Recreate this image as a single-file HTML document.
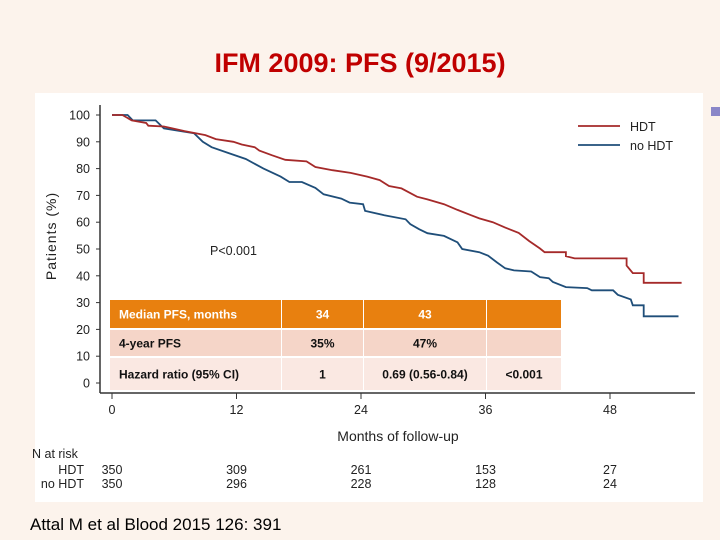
<!DOCTYPE html>
<html><head><meta charset="utf-8"><style>
body{margin:0;width:720px;height:540px;background:#fcf3ec;font-family:"Liberation Sans",sans-serif;overflow:hidden;position:relative}
</style></head><body>
<div style="position:absolute;left:0;top:48px;width:720px;text-align:center;color:#c00000;font-size:27px;font-weight:bold;">IFM 2009: PFS (9/2015)</div>
<div style="position:absolute;left:711px;top:107px;width:9px;height:9px;background:#8a86c8"></div>
<svg width="720" height="540" style="position:absolute;left:0;top:0" xmlns="http://www.w3.org/2000/svg">
<rect x="35" y="93" width="668" height="409" fill="#fff"/>
<g id="plot"></g>
</svg>
<div style="position:absolute;left:30px;top:515px;font-size:17px;color:#000">Attal M et al Blood 2015 126: 391</div>
<script>
const xTicks=[0,12,24,36,48];
const yTicks=[0,10,20,30,40,50,60,70,80,90,100];
const hdtMonths=[0,1,1.9,3.3,3.5,5,7,9,10,11.7,12.5,13.75,14.2,15.4,16.7,18.75,19.6,21.25,23,24.6,25.8,26.7,27.9,29.4,30.4,32,33.3,34.6,35.4,36.7,37.9,39.2,40.2,41.25,41.7,43.75,43.75,44.6,49.6,49.6,50.2,51.25,51.25,54.9];
const hdtValues=[100,100,98,97,96,95.7,94,92.5,91,90,89,88,86.7,85,83.3,82.7,80.6,79.4,78.4,77,75.7,73.5,72.6,69.5,68.5,66.7,64.6,62.6,61.4,60,58,56,53,50.2,48.8,48.8,47.3,46.5,46.5,43.8,41,41,37.4,37.4];
const noHdtMonths=[0,1.5,2,4.2,5,7.9,8.75,9.6,11.25,12.9,14.6,16.25,17.1,18.3,19.6,20.4,22.1,22.9,24.2,24.4,26.25,28.3,28.75,29.6,30.4,32,33.3,33.75,35.4,36.25,37.1,37.9,38.75,40.4,41.25,42.1,42.5,43.75,45.8,46.25,48.3,48.75,50,50.2,51.25,51.25,54.6];
const noHdtValues=[100,100,98,98,95,93.2,90,88,85.8,83.6,80,77,75,75,72.8,70.4,68.8,67.3,66.7,64.2,62.6,61.1,59.3,57.4,55.9,54.9,52.5,50,48.8,47.5,45,42.8,42,41.6,39.5,39.1,37.7,35.8,35.4,34.6,34.6,32.9,31.2,29,29,24.9,24.9];
const riskHdt=[350,309,261,153,27];
const riskNoHdt=[350,296,228,128,24];
const xs=m=>112+m*(610-112)/48;
const ys=v=>383-v*(383-115)/100;
const NS="http://www.w3.org/2000/svg";
const g=document.getElementById('plot');
function el(t,a,txt){const e=document.createElementNS(NS,t);for(const k in a)e.setAttribute(k,a[k]);if(txt!==undefined)e.textContent=txt;g.appendChild(e);return e;}
let e;
e=el('line',{x1:100,y1:105,x2:100,y2:393,stroke:'#333','stroke-width':1.5});


e=el('line',{x1:100,y1:393,x2:695,y2:393,stroke:'#333','stroke-width':1.5});


yTicks.forEach(v=>{
 e=el('line',{x1:96,y1:ys(v),x2:100,y2:ys(v),stroke:'#333'});
 
 
 e=el('text',{x:90,y:ys(v)+4.5,'text-anchor':'end','font-size':12.5,fill:'#222'},v);
 
 
});
xTicks.forEach((m,i)=>{
 e=el('line',{x1:xs(m),y1:393,x2:xs(m),y2:399,stroke:'#333'});
 
 
 e=el('text',{x:xs(m),y:414,'text-anchor':'middle','font-size':12.5,fill:'#222'},m);
 
 
 e=el('text',{x:xs(m),y:474,'text-anchor':'middle','font-size':12.5,fill:'#222'},riskHdt[i]);
 
 
 e=el('text',{x:xs(m),y:488,'text-anchor':'middle','font-size':12.5,fill:'#222'},riskNoHdt[i]);
 
 
});
function pts(ms,vs){return ms.map((m,i)=>xs(m).toFixed(1)+','+ys(vs[i]).toFixed(1)).join(' ');}
e=el('polyline',{points:pts(noHdtMonths,noHdtValues),fill:'none',stroke:'#1f4e79','stroke-width':1.8});


e=el('polyline',{points:pts(hdtMonths,hdtValues),fill:'none',stroke:'#a52a2a','stroke-width':1.8});


e=el('line',{x1:578,y1:126,x2:620,y2:126,stroke:'#a52a2a','stroke-width':1.8});


e=el('text',{x:630,y:131,'font-size':12.5,fill:'#222'},'HDT');


e=el('line',{x1:578,y1:145,x2:620,y2:145,stroke:'#1f4e79','stroke-width':1.8});


e=el('text',{x:630,y:150,'font-size':12.5,fill:'#222'},'no HDT');


e=el('text',{x:210,y:255,'font-size':12.5,fill:'#222'},'P<0.001');


e=el('text',{x:0,y:0,'font-size':14,fill:'#222','text-anchor':'middle',transform:'translate(56,236) rotate(-90)','letter-spacing':1},'Patients (%)');


e=el('text',{x:398,y:441,'font-size':14,fill:'#222','text-anchor':'middle'},'Months of follow-up');


e=el('text',{x:32,y:458,'font-size':12.5,fill:'#222'},'N at risk');


e=el('text',{x:84,y:474,'font-size':12.5,fill:'#222','text-anchor':'end'},'HDT');


e=el('text',{x:84,y:488,'font-size':12.5,fill:'#222','text-anchor':'end'},'no HDT');


// table
const cols=[[110,281],[282,363],[364,486],[487,561]];
const rows=[[300,28,'#e8800f','#fff',['Median PFS, months','34','43','']],[330,26,'#f5d5c8','#111',[' 4-year PFS','35%','47%','']],[358,32,'#fae8e2','#111',['Hazard ratio (95%  CI)','1','0.69 (0.56-0.84)','<0.001']]];
rows.forEach(r=>{cols.forEach((c,j)=>{
 e=el('rect',{x:c[0],y:r[0],width:c[1]-c[0],height:r[1],fill:r[2]});
 
 
 e=el('text',{x:j==0?c[0]+9:(c[0]+c[1])/2,y:r[0]+r[1]/2+4.5,'text-anchor':j==0?'start':'middle','font-size':12,'font-weight':'bold',fill:r[3],'xml:space':'preserve'},r[4][j]);
 
 
});});
</script>
</body></html>
